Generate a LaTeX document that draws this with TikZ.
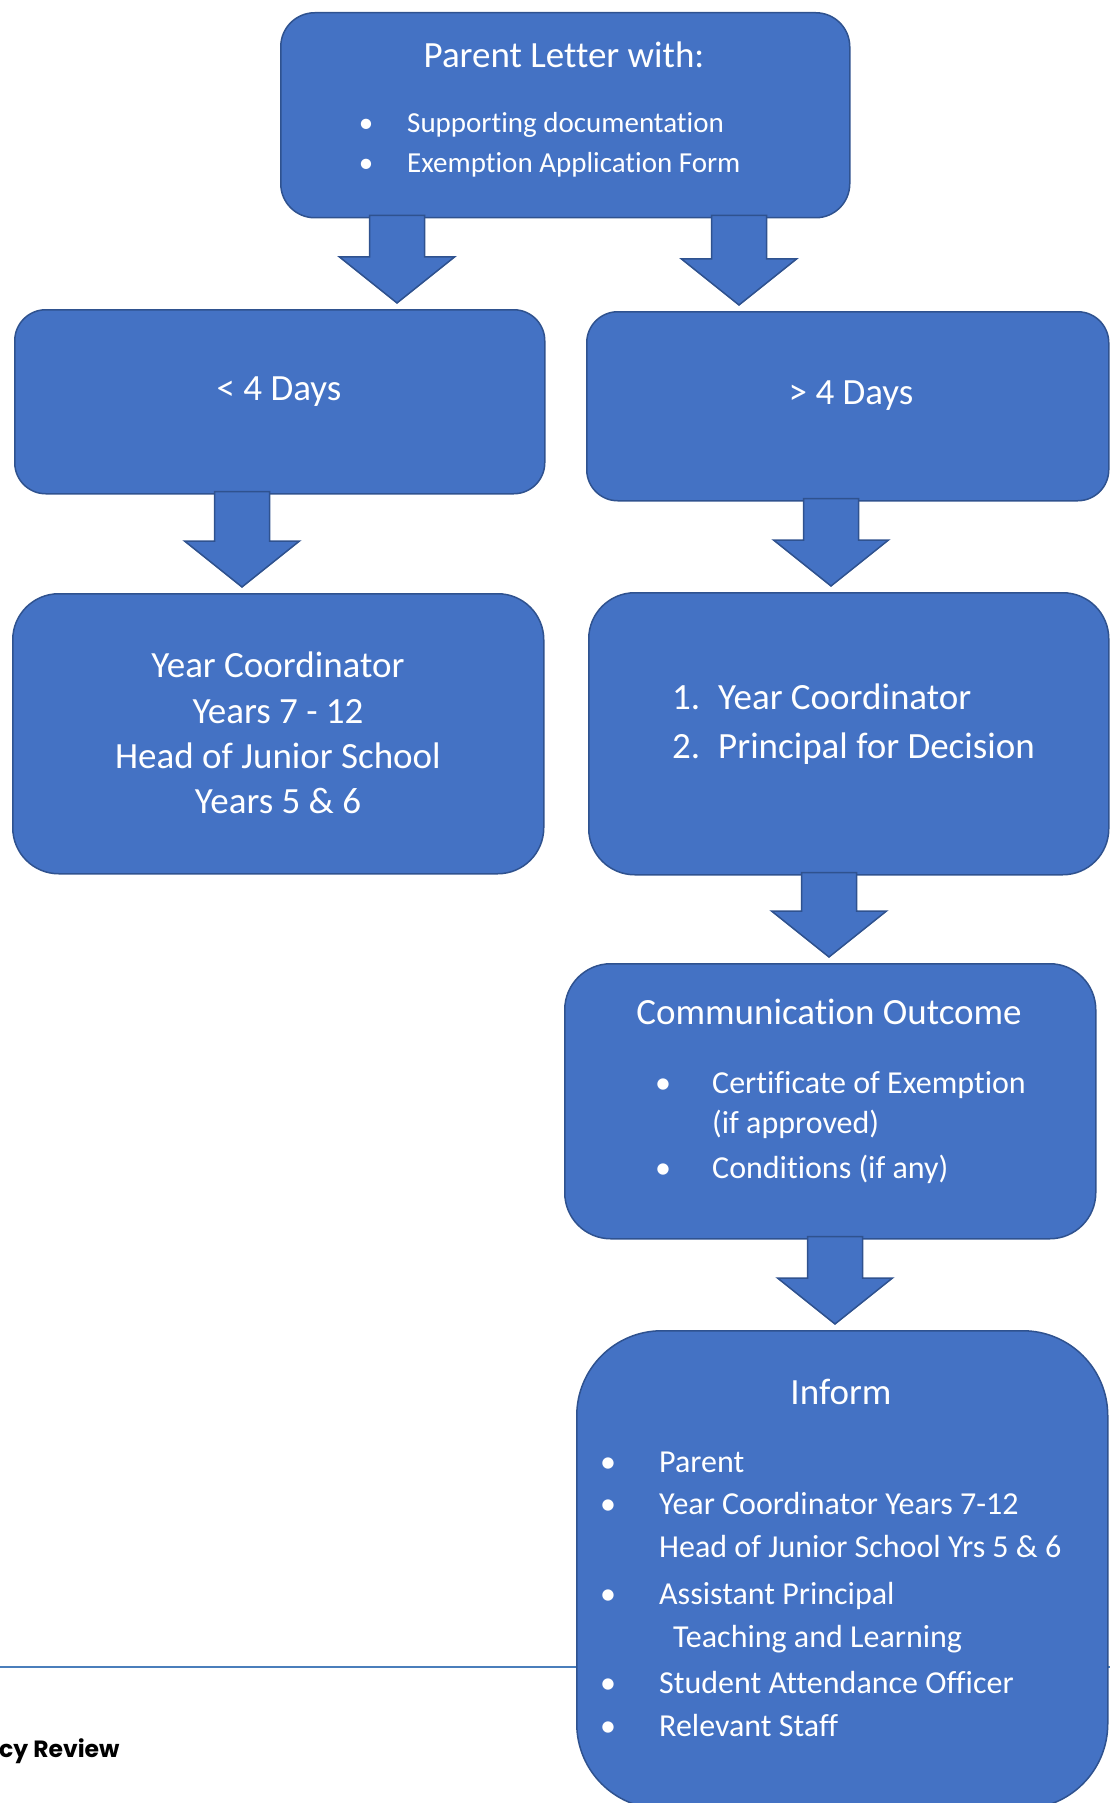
\documentclass[tikz,border=0pt]{standalone}
\usepackage{fontspec}
\setmainfont{Carlito}[Ligatures=NoCommon]
\newfontfamily\footerfont{Poppins}
\usepackage{xcolor}
\usetikzlibrary{calc}
\definecolor{boxblue}{HTML}{4472C4}
\definecolor{boxedge}{HTML}{2F528F}
\definecolor{rulecol}{HTML}{4A7EBB}

\begin{document}
\begin{tikzpicture}[
  x=1pt, y=-1pt,
  box/.style={draw=boxedge,fill=boxblue,line width=1.5pt,anchor=north west,inner sep=0pt},
  barrow/.style={draw=boxedge,fill=boxblue,line width=1.5pt,
    to path={let \p1=(\tikztostart), \p2=(\tikztotarget) in
      (\x1-27.5pt,\y1+3pt) -- (\x1+27.5pt,\y1+3pt) -- (\x1+27.5pt,\y2+52pt)
      -- (\x1+57.5pt,\y2+52pt) -- (\x1,\y2+6pt) -- (\x1-57.5pt,\y2+52pt)
      -- (\x1-27.5pt,\y2+52pt) -- cycle}},
  head/.style={text=white,anchor=base,inner sep=0pt,font=\fontsize{37}{44}\selectfont},
  item/.style={text=white,anchor=base west,inner sep=0pt,font=\fontsize{32}{38}\selectfont},
  dot/.style={item,anchor=base},
  small/.style={item,font=\fontsize{29}{35}\selectfont},
  smalldot/.style={small,anchor=base}
]
\useasboundingbox (0,0) rectangle (1110,1803);
\clip (0,0) rectangle (1110,1803);

% footer rule behind the last box
\coordinate (ruleL) at (0,1667);
\coordinate (ruleR) at (1110,1667);
\draw[rulecol,line width=2.5pt] (ruleL) -- (ruleR);
\node[anchor=base west,inner sep=0pt,font=\footerfont\bfseries\fontsize{23.5}{28}\selectfont] (footer) at (-1,1757) {cy Review};

% boxes
\node[box,rounded corners=34pt,minimum width=569pt,minimum height=205pt] (letter) at (280,12) {};
\node[box,rounded corners=31pt,minimum width=530pt,minimum height=184pt] (short) at (14,309) {};
\node[box,rounded corners=31pt,minimum width=522pt,minimum height=189pt] (long) at (586,311) {};
\node[box,rounded corners=46pt,minimum width=531pt,minimum height=280pt] (coord) at (12,593) {};
\node[box,rounded corners=46pt,minimum width=520pt,minimum height=282pt] (decide) at (588,592) {};
\node[box,rounded corners=46pt,minimum width=531pt,minimum height=275pt] (outcome) at (564,963) {};
\node[box,rounded corners=85pt,minimum width=531pt,minimum height=478pt] (inform) at (576,1330) {};

% block arrows
\draw[barrow] (letter.south -| 397,0) to (short.north -| 397,0);
\draw[barrow] (letter.south -| 739,0) to (long.north -| 739,0);
\draw[barrow] (short.south -| 242,0) to (coord.north -| 242,0);
\draw[barrow] (long.south -| 831,0) to (decide.north -| 831,0);
\draw[barrow] (decide.south -| 829,0) to (outcome.north -| 829,0);
\draw[barrow] (outcome.south -| 835,0) to (inform.north -| 835,0);

% texts
\node[head] (lettertitle) at (564,68) {Parent Letter with:};
\node[smalldot] (letterdot1) at (366,133) {\textbullet};
\node[small] (letteritem1) at (407,133) {Supporting documentation};
\node[smalldot] (letterdot2) at (366,173) {\textbullet};
\node[small] (letteritem2) at (407,173) {Exemption Application Form};

\node[head] (shorttext) at (279,400) {< 4 Days};
\node[head] (longtext) at (851,404) {> 4 Days};

\node[head] (coord1) at (278,677) {Year Coordinator};
\node[head] (coord2) at (278,723) {Years 7 - 12};
\node[head] (coord3) at (278,768) {Head of Junior School};
\node[head] (coord4) at (278,813) {Years 5 \& 6};

\node[head,anchor=base west] (decidenum1) at (672,709) {1.};
\node[head,anchor=base west] (decide1) at (718,709) {Year Coordinator};
\node[head,anchor=base west] (decidenum2) at (672,758) {2.};
\node[head,anchor=base west] (decide2) at (718,758) {Principal for Decision};

\node[head] (outcometitle) at (829,1024) {Communication Outcome};
\node[dot] (outcomedot1) at (663,1093) {\textbullet};
\node[item] (outcome1) at (712,1093) {Certificate of Exemption};
\node[item] (outcome1b) at (712,1133) {(if approved)};
\node[dot] (outcomedot2) at (663,1178) {\textbullet};
\node[item] (outcome2) at (712,1178) {Conditions (if any)};

\node[head] (informtitle) at (841,1404) {Inform};
\node[dot] (informdot1) at (608,1472) {\textbullet};
\node[item] (inform1) at (659,1472) {Parent};
\node[dot] (informdot2) at (608,1514) {\textbullet};
\node[item] (inform2) at (659,1514) {Year Coordinator Years 7-12};
\node[item] (inform2b) at (659,1557) {Head of Junior School Yrs 5 \& 6};
\node[dot] (informdot3) at (608,1604) {\textbullet};
\node[item] (inform3) at (659,1604) {Assistant Principal};
\node[item] (inform3b) at (673,1647) {Teaching and Learning};
\node[dot] (informdot4) at (608,1693) {\textbullet};
\node[item] (inform4) at (659,1693) {Student Attendance Officer};
\node[dot] (informdot5) at (608,1736) {\textbullet};
\node[item] (inform5) at (659,1736) {Relevant Staff};
\end{tikzpicture}
\end{document}
